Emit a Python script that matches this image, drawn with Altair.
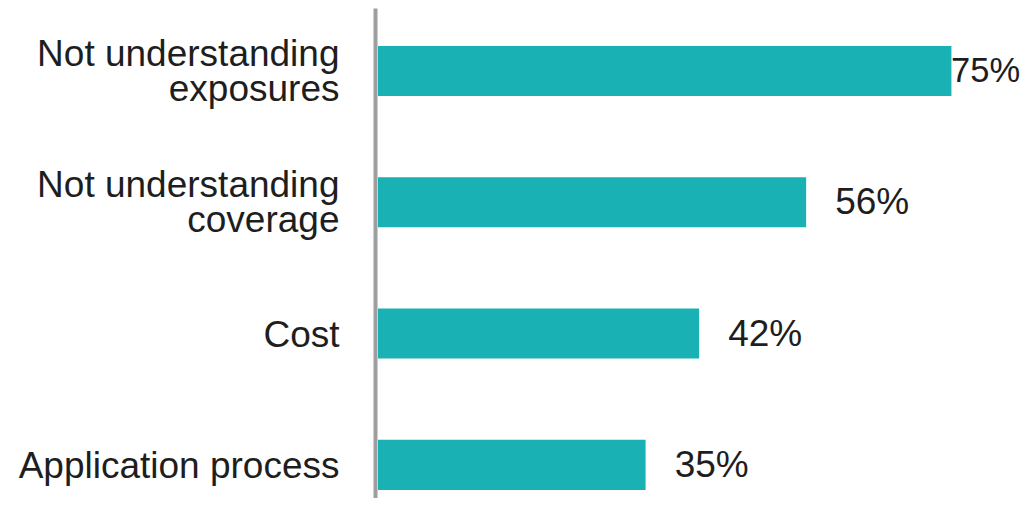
import altair as alt
import pandas as pd

categories = [
    "Not understanding\nexposures",
    "Not understanding\ncoverage",
    "Cost",
    "Application process",
]
values = [75, 56, 42, 35]
labels = ["75%", "56%", "42%", "35%"]

df = pd.DataFrame({"category": categories, "value": values, "label": labels})

TEAL = "#1AB1B4"
TEXT = "#1e1e1e"
FONT = "Liberation Sans"

y_enc = alt.Y(
    "category:N",
    sort=categories,
    title=None,
    scale=alt.Scale(paddingInner=0.619, paddingOuter=0.175, align=0.824),
    axis=alt.Axis(
        ticks=False,
        tickSize=0,
        grid=False,
        domain=True,
        domainColor="#9e9e9e",
        domainWidth=4,
        offset=3,
        labelPadding=36,
        labelFont=FONT,
        labelFontSize=37,
        labelColor=TEXT,
        labelLineHeight=35,
        labelLimit=400,
        labelExpr="split(datum.label, '\\n')",
        labelOffset={
            "condition": {"test": "indexof(datum.value, '\\n') >= 0", "value": -16},
            "value": 2,
        },
    ),
)

x_scale = alt.Scale(domain=[0, 84.1], nice=False, zero=True)

bars = alt.Chart(df).mark_bar(color=TEAL).encode(
    x=alt.X("value:Q", scale=x_scale, axis=None),
    y=y_enc,
)

text = (
    alt.Chart(df)
    .transform_calculate(pos="datum.value >= 70 ? datum.value - 0.05 : datum.value + 3.8")
    .mark_text(align="left", baseline="middle", font=FONT, color=TEXT, dy=1)
    .encode(
        x=alt.X("pos:Q", scale=x_scale, axis=None),
        y=alt.Y("category:N", sort=categories),
        text="label:N",
        size=alt.condition("datum.value >= 70", alt.value(34.5), alt.value(37)),
    )
)

chart = (
    alt.layer(bars, text)
    .properties(
        width=643,
        height=490,
        autosize=alt.AutoSizeParams(type="none"),
        padding={"left": 370, "top": 0, "right": 0, "bottom": 0},
        background="white",
    )
    .configure_view(stroke=None)
)

chart.save("out.html", embed_options={"renderer": "svg", "actions": False})
